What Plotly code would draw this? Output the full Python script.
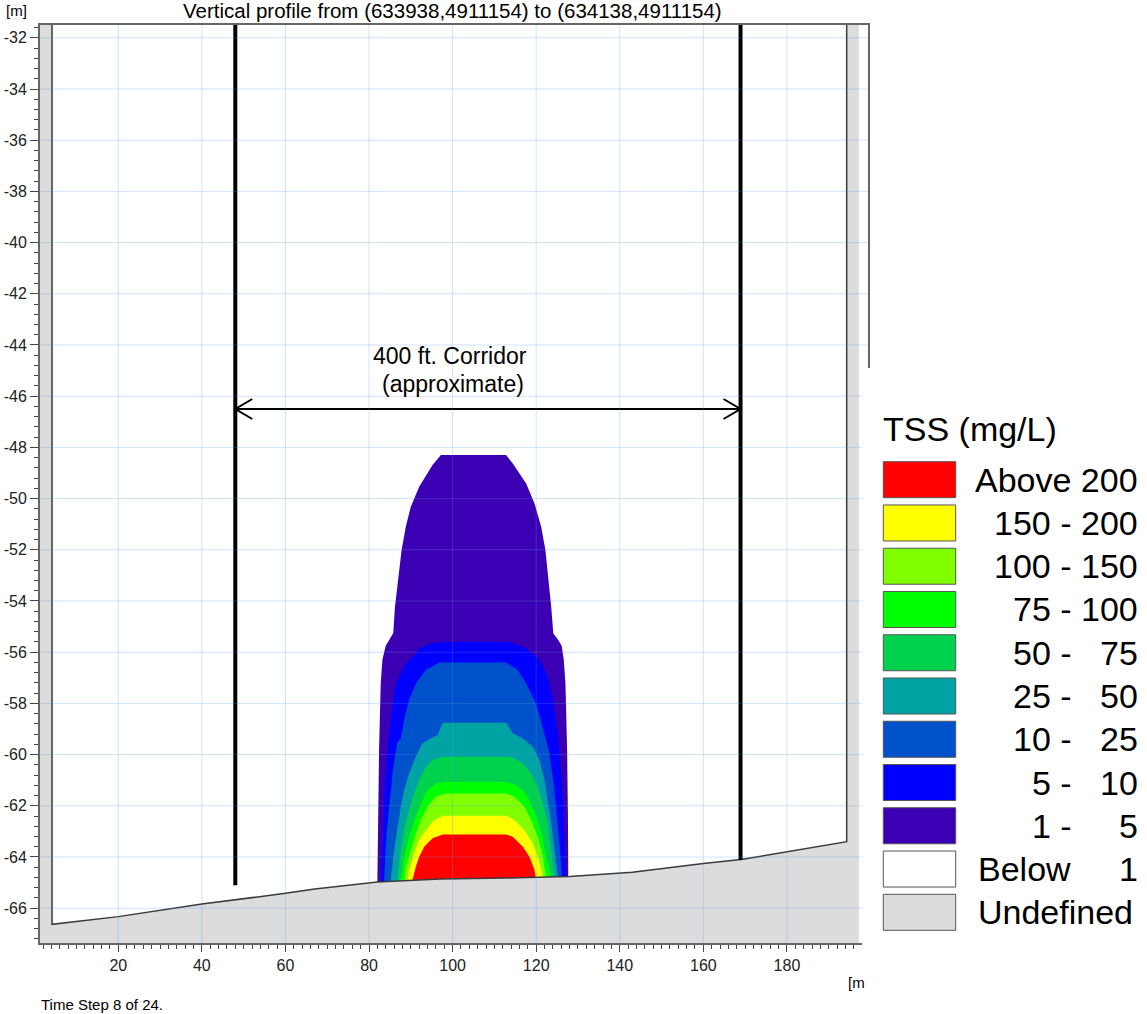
import plotly.graph_objects as go

# ---------------- data ----------------
x_ticks = [20, 40, 60, 80, 100, 120, 140, 160, 180]
y_ticks = [-32, -34, -36, -38, -40, -42, -44, -46, -48, -50, -52, -54, -56, -58, -60, -62, -64, -66]
x_tick_text = [str(v) for v in x_ticks]
y_tick_text = [str(v) for v in y_ticks]

X_RANGE = [1.27, 199.4]
Y_RANGE = [-67.36, -31.5]

# bed / domain of the vertical profile (m)
bed_x = [4.15, 20, 40, 60, 67, 82, 97, 113, 128, 143, 160, 169, 180, 194.3]
bed_z = [-66.63, -66.33, -65.84, -65.42, -65.25, -64.98, -64.86, -64.82, -64.76, -64.6, -64.25, -64.1, -63.8, -63.4]
domain_left_x = 4.15
domain_right_x = 194.3
undefined_right_x = 197.2

# corridor
corridor_x = [48.0, 168.9]
corridor_bottom_z = [-65.1, -64.12]
corridor_arrow_z = -46.5

# TSS legend
tss_low = ["Above", "150", "100", "75", "50", "25", "10", "5", "1"]
tss_high = ["200", "200", "150", "100", "75", "50", "25", "10", "5"]
tss_colors = ["#ff0000", "#ffff00", "#80ff00", "#00ff00", "#00d24e", "#00a3a3", "#0052cc", "#0000ff", "#3c00b4"]
below_color = "#ffffff"
undefined_color = "#dcdcdc"

# plume contour bands (outer boundary of each band), x in m, z in m
tss_1_5_x = [82.0, 82.0, 82.2, 82.4, 82.8, 83.2, 84.0, 84.8, 85.8, 86.2, 87.0, 87.8, 88.8, 90.0, 92.0, 95.2, 97.2,
             112.8, 114.4, 117.6, 119.6, 121.2, 122.2, 123.0, 123.6, 124.1, 125.2, 126.1, 126.6, 127.0, 127.4, 127.6, 127.7, 127.7]
tss_1_5_z = [-65.6, -64.9, -62.43, -59.82, -57.22, -56.3, -55.75, -55.5, -55.25, -54.23, -53.18, -52.01, -51.10, -50.32, -49.54, -48.69, -48.30,
             -48.30, -48.63, -49.41, -50.19, -51.10, -52.01, -53.18, -54.23, -55.27, -55.5, -55.75, -56.3, -57.22, -59.82, -62.43, -64.75, -65.6]

tss_5_10_x = [82.9, 82.9, 83.1, 83.4, 83.8, 84.4, 85.2, 86.4, 88.8, 91.2, 92.0, 94.4, 97.2,
              113.2, 116.8, 119.2, 120.8, 122.8, 124.0, 125.2, 126.2, 126.9, 127.1, 127.1]
tss_5_10_z = [-65.6, -64.9, -63.73, -62.43, -61.13, -59.82, -58.52, -57.22, -56.44, -56.05, -55.85, -55.68, -55.59,
              -55.59, -55.79, -56.05, -56.31, -56.96, -57.87, -59.17, -61.13, -63.73, -64.9, -65.6]

tss_10_25_x = [83.6, 83.6, 84.2, 85.0, 85.8, 86.8, 87.6, 87.8, 88.6, 89.6, 91.2, 93.6, 96.8,
               112.8, 115.6, 117.6, 119.6, 120.9, 122.0, 123.0, 124.2, 125.0, 125.7, 126.2, 126.2]
tss_10_25_z = [-65.6, -64.9, -63.08, -61.78, -60.48, -59.5, -59.37, -59.17, -58.52, -57.87, -57.22, -56.70, -56.40,
               -56.40, -56.70, -57.22, -57.87, -58.52, -59.17, -59.82, -61.13, -62.43, -63.73, -64.9, -65.6]

tss_25_50_x = [85.2, 85.2, 86.0, 86.8, 87.6, 88.4, 89.6, 91.2, 92.8, 95.2, 96.4, 97.6,
               112.8, 114.4, 116.8, 119.2, 120.8, 122.0, 122.8, 123.6, 124.4, 125.2, 125.2]
tss_25_50_z = [-65.6, -64.9, -63.73, -62.82, -62.04, -61.39, -60.74, -60.08, -59.56, -59.33, -59.24, -58.76,
               -58.76, -59.17, -59.37, -59.69, -60.21, -60.99, -61.78, -62.69, -63.73, -64.9, -65.6]

tss_50_75_x = [86.8, 86.8, 87.6, 88.4, 89.6, 90.8, 92.0, 93.6, 95.2, 97.6,
               112.8, 114.4, 116.8, 118.8, 120.4, 121.6, 122.8, 123.6, 124.4, 124.4]
tss_50_75_z = [-65.6, -64.9, -63.73, -62.95, -62.17, -61.52, -60.99, -60.48, -60.21, -60.08,
               -60.08, -60.11, -60.35, -60.74, -61.26, -61.91, -62.69, -63.73, -64.9, -65.6]

tss_75_100_x = [87.6, 87.6, 88.4, 89.6, 91.2, 92.4, 94.0, 96.0, 98.4,
                112.0, 114.4, 116.8, 118.8, 120.4, 121.6, 122.8, 123.6, 123.6]
tss_75_100_z = [-65.6, -64.9, -63.99, -63.21, -62.43, -61.91, -61.39, -61.13, -61.06,
                -61.06, -61.13, -61.39, -61.91, -62.56, -63.34, -64.25, -64.9, -65.6]

tss_100_150_x = [88.4, 88.4, 88.8, 90.0, 91.2, 92.4, 94.0, 96.0, 98.4,
                 112.8, 114.8, 117.2, 118.8, 120.4, 121.6, 122.4, 122.4]
tss_100_150_z = [-65.6, -64.9, -64.38, -63.73, -63.08, -62.56, -62.04, -61.65, -61.52,
                 -61.52, -61.65, -62.04, -62.56, -63.21, -63.99, -64.9, -65.6]

tss_150_200_x = [89.2, 89.2, 89.6, 90.8, 92.0, 93.6, 95.6, 97.6,
                 112.8, 114.8, 117.2, 119.2, 120.4, 121.2, 121.6, 121.6]
tss_150_200_z = [-65.6, -64.9, -64.51, -63.86, -63.34, -62.95, -62.56, -62.39,
                 -62.39, -62.56, -62.95, -63.47, -63.99, -64.51, -64.9, -65.6]

tss_above_200_x = [90.4, 90.4, 91.2, 92.0, 93.2, 95.2, 97.6,
                   112.8, 114.4, 116.8, 118.4, 119.6, 120.0, 120.0]
tss_above_200_z = [-65.6, -64.9, -64.38, -63.99, -63.60, -63.27, -63.12,
                   -63.12, -63.21, -63.60, -63.99, -64.51, -64.9, -65.6]

# ---------------- layout helpers ----------------
W, H = 1147, 1014
PL, PR, PT, PB = 40, 868, 25, 943
FONT = "Liberation Sans, Arial, sans-serif"


def pxx(px):
    return (px - PL) / (PR - PL)


def pxy(py):
    return (PB - py) / (PB - PT)


fig = go.Figure()

# plume bands, outermost first
bands = [
    (tss_1_5_x, tss_1_5_z, tss_colors[8]),
    (tss_5_10_x, tss_5_10_z, tss_colors[7]),
    (tss_10_25_x, tss_10_25_z, tss_colors[6]),
    (tss_25_50_x, tss_25_50_z, tss_colors[5]),
    (tss_50_75_x, tss_50_75_z, tss_colors[4]),
    (tss_75_100_x, tss_75_100_z, tss_colors[3]),
    (tss_100_150_x, tss_100_150_z, tss_colors[2]),
    (tss_150_200_x, tss_150_200_z, tss_colors[1]),
    (tss_above_200_x, tss_above_200_z, tss_colors[0]),
]
for bx, bz, col in bands:
    fig.add_trace(go.Scatter(x=bx, y=bz, mode="lines", fill="toself", fillcolor=col,
                             line=dict(width=0, color=col), hoverinfo="skip", showlegend=False))

# undefined (outside domain) region
top_out = Y_RANGE[1] + 1
bot_out = Y_RANGE[0] - 1
left_out = X_RANGE[0] - 1
ux = [left_out, domain_left_x] + bed_x + [domain_right_x, undefined_right_x, undefined_right_x, left_out]
uz = [top_out, top_out] + bed_z + [top_out, top_out, bot_out, bot_out]
fig.add_trace(go.Scatter(x=ux, y=uz, mode="lines", fill="toself", fillcolor=undefined_color,
                         line=dict(width=0, color=undefined_color), hoverinfo="skip", showlegend=False))

# domain boundary
fig.add_trace(go.Scatter(x=[domain_left_x] + bed_x + [domain_right_x],
                         y=[top_out] + bed_z + [top_out], mode="lines",
                         line=dict(color="#3a3a3a", width=1.5), hoverinfo="skip", showlegend=False))

# corridor lines
for cx, cz in zip(corridor_x, corridor_bottom_z):
    fig.add_trace(go.Scatter(x=[cx, cx], y=[top_out, cz], mode="lines",
                             line=dict(color="black", width=4), hoverinfo="skip", showlegend=False))

# arrow with open heads
hdx = 17 / ((PR - PL) / (X_RANGE[1] - X_RANGE[0]))
hdz = 10 / ((PB - PT) / (Y_RANGE[1] - Y_RANGE[0]))
x0c, x1c = corridor_x
az = corridor_arrow_z
fig.add_trace(go.Scatter(
    x=[x0c, x1c, None, x0c + hdx, x0c, x0c + hdx, None, x1c - hdx, x1c, x1c - hdx],
    y=[az, az, None, az + hdz, az, az - hdz, None, az + hdz, az, az - hdz],
    mode="lines", line=dict(color="black", width=2), hoverinfo="skip", showlegend=False))

shapes = []
grid_col = "rgba(90,150,225,0.27)"
for v in x_ticks:
    shapes.append(dict(type="line", xref="x", yref="paper", x0=v, x1=v, y0=0, y1=1,
                       line=dict(color=grid_col, width=1), layer="above"))
for v in y_ticks:
    shapes.append(dict(type="line", xref="paper", yref="y", x0=0, x1=1, y0=v, y1=v,
                       line=dict(color=grid_col, width=1), layer="above"))

# white legend panel covering the lower right of the frame
shapes.append(dict(type="rect", xref="paper", yref="paper", x0=pxx(862), x1=pxx(1160),
                   y0=pxy(1030), y1=pxy(368), fillcolor="white", line=dict(width=0), layer="above"))

annotations = []
# legend boxes and labels
box_top0 = 461.7
pitch = 43.26
box_h = 36
legend_cols = tss_colors + [below_color, undefined_color]
for i, col in enumerate(legend_cols):
    t = box_top0 + i * pitch
    shapes.append(dict(type="rect", xref="paper", yref="paper", x0=pxx(883.3), x1=pxx(955.7),
                       y0=pxy(t + box_h), y1=pxy(t), fillcolor=col,
                       line=dict(color="#555555", width=1), layer="above"))
    cy = pxy(t + box_h / 2)
    lf = dict(family=FONT, size=34, color="black")
    if i == 0:
        annotations.append(dict(text=f"{tss_low[0]} {tss_high[0]}", x=pxx(1140), y=cy, xref="paper", yref="paper",
                                xanchor="right", yanchor="middle", showarrow=False, font=lf))
    elif i < 9:
        annotations.append(dict(text=f"{tss_low[i]} -", x=pxx(1074), y=cy, xref="paper", yref="paper",
                                xanchor="right", yanchor="middle", showarrow=False, font=lf))
        annotations.append(dict(text=tss_high[i], x=pxx(1140), y=cy, xref="paper", yref="paper",
                                xanchor="right", yanchor="middle", showarrow=False, font=lf))
    elif i == 9:
        annotations.append(dict(text="Below", x=pxx(976), y=cy, xref="paper", yref="paper",
                                xanchor="left", yanchor="middle", showarrow=False, font=lf))
        annotations.append(dict(text="1", x=pxx(1140), y=cy, xref="paper", yref="paper",
                                xanchor="right", yanchor="middle", showarrow=False, font=lf))
    else:
        annotations.append(dict(text="Undefined", x=pxx(976), y=cy, xref="paper", yref="paper",
                                xanchor="left", yanchor="middle", showarrow=False, font=lf))

annotations.append(dict(text="TSS (mg/L)", x=pxx(881), y=pxy(429), xref="paper", yref="paper",
                        xanchor="left", yanchor="middle", showarrow=False,
                        font=dict(family=FONT, size=34, color="black")))

# titles and labels
annotations.append(dict(text="Vertical profile from (633938,4911154) to (634138,4911154)",
                        x=pxx(452), y=pxy(11), xref="paper", yref="paper", xanchor="center", yanchor="middle",
                        showarrow=False, font=dict(family=FONT, size=20.5, color="black")))
annotations.append(dict(text="[m]", x=pxx(4), y=pxy(10), xref="paper", yref="paper", xanchor="left",
                        yanchor="middle", showarrow=False, font=dict(family=FONT, size=15, color="black")))
annotations.append(dict(text="[m", x=pxx(846), y=pxy(982), xref="paper", yref="paper", xanchor="left",
                        yanchor="middle", showarrow=False, font=dict(family=FONT, size=15, color="black")))
annotations.append(dict(text="Time Step 8 of 24.", x=pxx(39), y=pxy(1005), xref="paper", yref="paper",
                        xanchor="left", yanchor="middle", showarrow=False,
                        font=dict(family=FONT, size=15, color="black")))
annotations.append(dict(text="400 ft. Corridor", x=pxx(450), y=pxy(356), xref="paper", yref="paper",
                        xanchor="center", yanchor="middle", showarrow=False,
                        font=dict(family=FONT, size=23, color="black")))
annotations.append(dict(text="(approximate)", x=pxx(453), y=pxy(384), xref="paper", yref="paper",
                        xanchor="center", yanchor="middle", showarrow=False,
                        font=dict(family=FONT, size=23, color="black")))

tick_font = dict(family=FONT, size=16, color="#222222")
fig.update_layout(
    width=W, height=H,
    margin=dict(l=PL, r=W - PR, t=PT, b=H - PB, pad=0, autoexpand=False),
    paper_bgcolor="white", plot_bgcolor="white",
    showlegend=False,
    shapes=shapes, annotations=annotations,
    xaxis=dict(range=X_RANGE, tickmode="array", tickvals=x_ticks, ticktext=x_tick_text,
               automargin=False,
               ticks="outside", ticklen=7, tickwidth=1, tickcolor="#444444",
               showline=True, linecolor="#666666", linewidth=2, mirror=True,
               showgrid=False, zeroline=False, tickfont=tick_font,
               minor=dict(tickmode="linear", tick0=0, dtick=2, ticks="outside", ticklen=4,
                          tickwidth=1, tickcolor="#444444", showgrid=False)),
    yaxis=dict(range=Y_RANGE, tickmode="array", tickvals=y_ticks, ticktext=y_tick_text,
               automargin=False,
               ticks="outside", ticklen=8, tickwidth=1, tickcolor="#444444",
               showline=True, linecolor="#666666", linewidth=2, mirror=True,
               showgrid=False, zeroline=False, tickfont=tick_font,
               minor=dict(tickmode="linear", tick0=0, dtick=0.4, ticks="outside", ticklen=4,
                          tickwidth=1, tickcolor="#444444", showgrid=False)),
)

fig.write_html("out.html")
